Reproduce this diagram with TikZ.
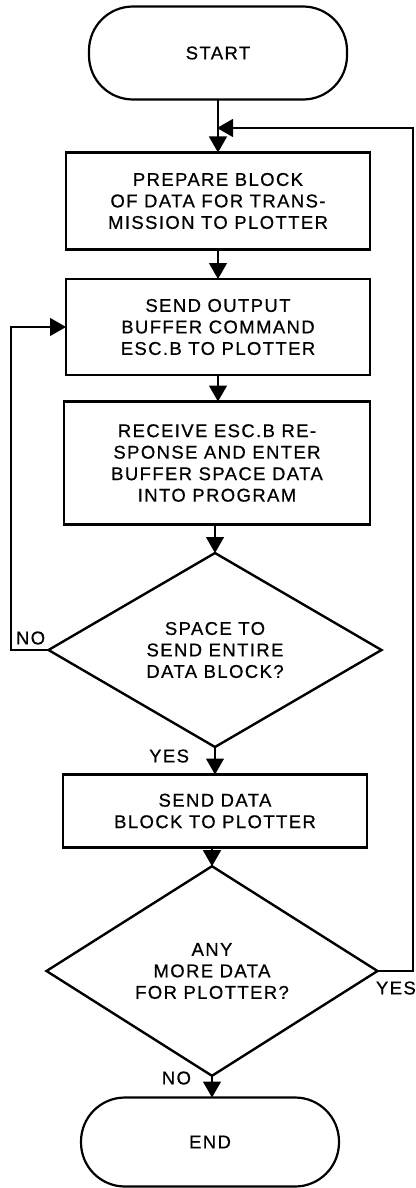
\documentclass[tikz,border=0pt]{standalone}
\usepackage{fontspec}
\setmainfont{Liberation Sans}[LetterSpace=7.5,FakeBold=0.6]
\usetikzlibrary{shapes.geometric,arrows.meta}
\newcommand{\fcfont}{\fontsize{18.5}{21.5}\selectfont}
\begin{document}
\begin{tikzpicture}[x=1pt,y=-1pt,
  every node/.style={font=\fcfont, align=center, inner sep=0pt, outer sep=0pt},
  procbox/.style={draw, rectangle, line width=2.4pt, minimum width=304pt},
  termbox/.style={draw, rectangle, line width=2.2pt, rounded corners=44pt, minimum width=258pt},
  decbox/.style={draw, diamond, line width=2.4pt, minimum width=333pt, minimum height=194pt},
  arr/.style={line width=1.4pt, -{Triangle[width=18pt,length=16pt]}},
  lbl/.style={font=\fcfont}
]
\useasboundingbox (0,0) rectangle (415,1188);
\fill[white] (0,0) rectangle (415,1188);

\node[termbox, minimum height=93pt] (start) at (218,53) {START};
\node[procbox, minimum height=97pt] (b1) at (218,201) {PREPARE BLOCK\\OF DATA FOR TRANS-\\MISSION TO PLOTTER};
\node[procbox, minimum height=96pt] (b2) at (218,327) {SEND OUTPUT\\BUFFER COMMAND\\ESC.B TO PLOTTER};
\node[procbox, minimum height=123pt, minimum width=306pt] (b3) at (217,463) {RECEIVE ESC.B RE-\\SPONSE AND ENTER\\BUFFER SPACE DATA\\INTO PROGRAM};
\node[decbox] (d1) at (215,650) {SPACE TO\\SEND ENTIRE\\DATA BLOCK?};
\node[procbox, minimum height=73pt] (b4) at (215,811) {SEND DATA\\BLOCK TO PLOTTER};
\node[decbox, minimum width=331pt, minimum height=193pt] (d2) at (212,971) {ANY\\MORE DATA\\FOR PLOTTER?};
\node[termbox, minimum height=89pt] (end) at (210,1142) {END};

\coordinate (join) at (217,128);
\coordinate (rr) at (413,128);
\coordinate (ll) at (11,327);

\draw[arr] (start.south) -- (start.south |- b1.north);
\draw[arr] (b1.south) -- (b1.south |- b2.north);
\draw[arr] (b2.south) -- (b2.south |- b3.north);
\draw[arr] (b3.south -| d1.north) -- (d1.north);
\draw[arr] (d1.south) -- (d1.south |- b4.north);
\draw[arr] (b4.south -| d2.north) -- (d2.north);
\draw[arr] (d2.south) -- (d2.south |- end.north);

\draw[arr] (d1.west) -| (ll) -- (b2.west);
\draw[arr] (d2.east) -| (rr) -- (join);

\node[lbl, anchor=west] (no1) at (16,638) {NO};
\node[lbl, anchor=east] (yes1) at (189,756) {YES};
\node[lbl, anchor=east] (no2) at (191,1078) {NO};
\node[lbl, anchor=west] (yes2) at (376,988) {YES};
\end{tikzpicture}
\end{document}
